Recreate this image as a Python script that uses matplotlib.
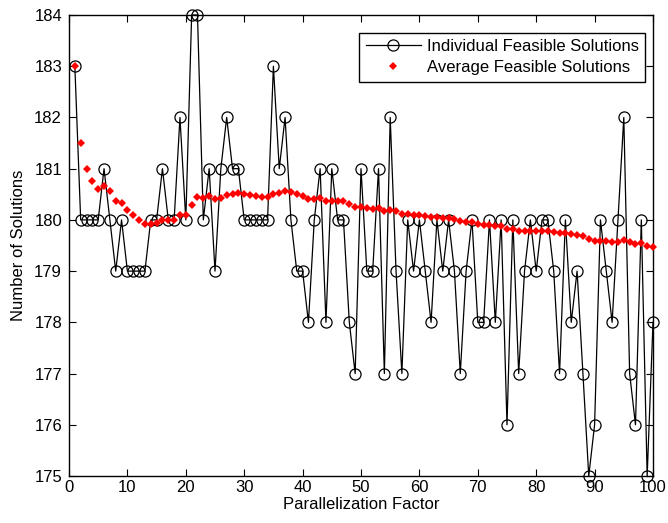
import matplotlib

matplotlib.use("Agg")
import matplotlib.pyplot as plt

factor = list(range(1, 101))

individual = [
    183, 180, 180, 180, 180, 181, 180, 179, 180, 179,
    179, 179, 179, 180, 180, 181, 180, 180, 182, 180,
    184, 184, 180, 181, 179, 181, 182, 181, 181, 180,
    180, 180, 180, 180, 183, 181, 182, 180, 179, 179,
    178, 180, 181, 178, 181, 180, 180, 178, 177, 181,
    179, 179, 181, 177, 182, 179, 177, 180, 179, 180,
    179, 178, 180, 179, 180, 179, 177, 179, 180, 178,
    178, 180, 178, 180, 176, 180, 177, 179, 180, 179,
    180, 180, 179, 177, 180, 178, 179, 177, 175, 176,
    180, 179, 178, 180, 182, 177, 176, 180, 175, 178,
]

average = [
    183.000, 181.500, 181.000, 180.750, 180.600, 180.667, 180.571, 180.375, 180.333, 180.200,
    180.091, 180.000, 179.923, 179.929, 179.933, 180.000, 180.000, 180.000, 180.105, 180.100,
    180.286, 180.455, 180.435, 180.458, 180.400, 180.423, 180.481, 180.500, 180.517, 180.500,
    180.484, 180.469, 180.455, 180.441, 180.514, 180.528, 180.568, 180.553, 180.513, 180.475,
    180.415, 180.405, 180.419, 180.364, 180.378, 180.370, 180.362, 180.313, 180.245, 180.260,
    180.235, 180.212, 180.226, 180.167, 180.200, 180.179, 180.123, 180.121, 180.102, 180.100,
    180.082, 180.048, 180.048, 180.031, 180.031, 180.015, 179.970, 179.956, 179.957, 179.929,
    179.901, 179.903, 179.877, 179.878, 179.827, 179.829, 179.792, 179.782, 179.785, 179.775,
    179.778, 179.780, 179.771, 179.738, 179.741, 179.721, 179.713, 179.682, 179.629, 179.589,
    179.593, 179.587, 179.570, 179.574, 179.600, 179.573, 179.536, 179.541, 179.495, 179.480,
]

x_ticks = list(range(0, 101, 10))
y_ticks = list(range(175, 185))

plt.rcParams.update(
    {
        "font.family": ["Liberation Sans", "DejaVu Sans"],
        "font.size": 12,
        "axes.linewidth": 1.0,
        "xtick.direction": "in",
        "ytick.direction": "in",
        "xtick.top": True,
        "ytick.right": True,
        "xtick.major.size": 5,
        "ytick.major.size": 5,
    }
)

fig = plt.figure(figsize=(6.68, 5.23), dpi=100)
ax = fig.add_axes([69 / 668, 1 - 476 / 523, (653 - 69) / 668, (476 - 15) / 523])

ax.plot(factor, individual, color="black", lw=0.9, marker="o", markersize=8,
        markerfacecolor="none", markeredgecolor="black", markeredgewidth=0.9,
        label="Individual Feasible Solutions", clip_on=False)
ax.plot(factor, average, linestyle="none", marker="D", markersize=4.2,
        color="red", markeredgewidth=0, label="Average Feasible Solutions",
        zorder=3, clip_on=False)

ax.set_xlim(0, 100)
ax.set_ylim(175, 184)
ax.set_xticks(x_ticks)
ax.set_yticks(y_ticks)
ax.tick_params(axis="x", pad=3)
ax.tick_params(axis="y", pad=5)
ax.set_xlabel("Parallelization Factor", labelpad=1)
ax.set_ylabel("Number of Solutions", labelpad=6)

leg = ax.legend(loc="upper right", bbox_to_anchor=(0.987, 0.962), numpoints=1,
                fancybox=False, edgecolor="black", framealpha=1,
                handlelength=3.3, handletextpad=0.35, borderpad=0.4,
                labelspacing=0.35, borderaxespad=0)
leg.get_frame().set_linewidth(1.0)

fig.savefig("out.png", dpi=100)
